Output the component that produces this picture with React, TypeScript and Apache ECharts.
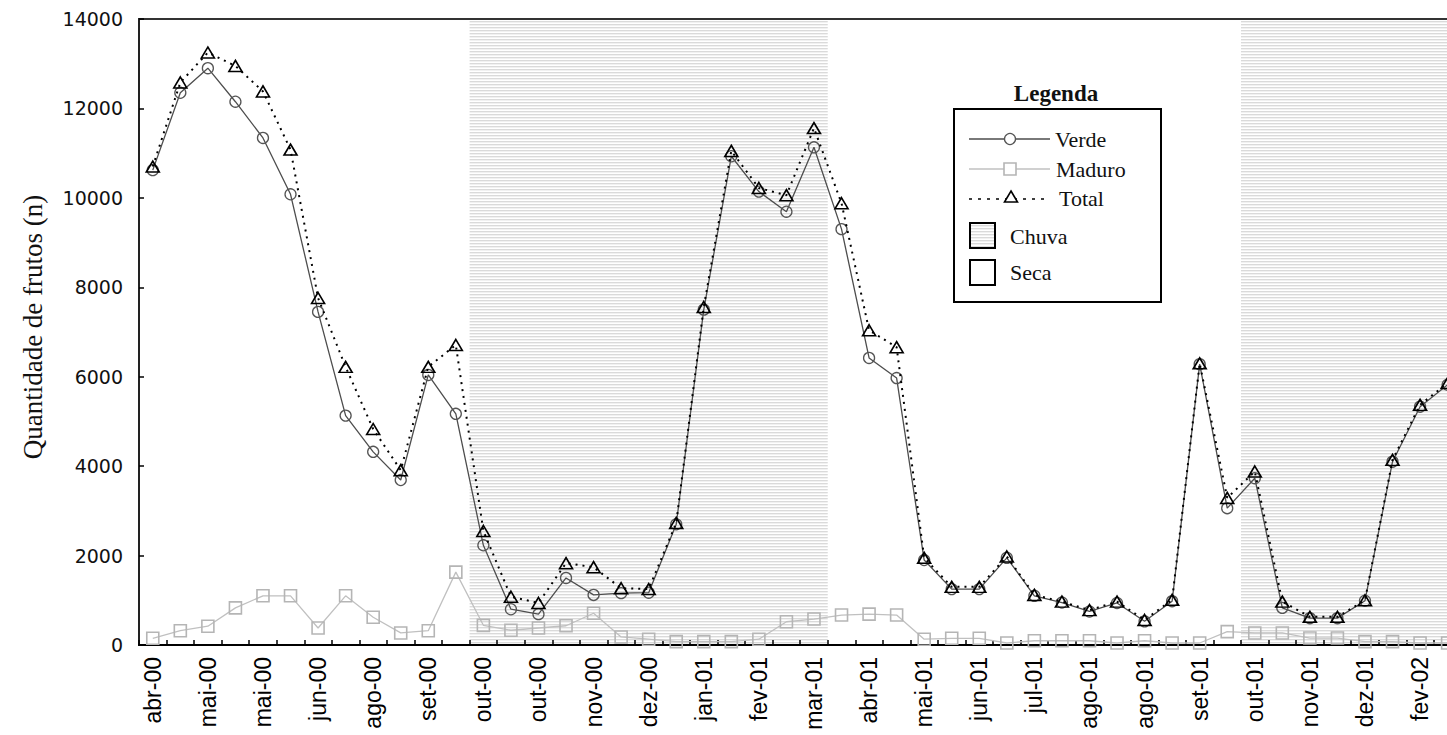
import React, { useEffect, useRef } from 'react';
import * as echarts from 'echarts';

// Tick labels (one every second sample)
const tickLabels = ['abr-00', 'mai-00', 'mai-00', 'jun-00', 'ago-00', 'set-00', 'out-00', 'out-00', 'nov-00', 'dez-00', 'jan-01', 'fev-01', 'mar-01', 'abr-01', 'mai-01', 'jun-01', 'jul-01', 'ago-01', 'ago-01', 'set-01', 'out-01', 'nov-01', 'dez-01', 'fev-02'];

const verde = [10620, 12350, 12900, 12150, 11340, 10080, 7450, 5130, 4320, 3690, 6040, 5170, 2230, 800, 690, 1500, 1120, 1160, 1170, 2700, 7500, 10930, 10140, 9690, 11130, 9300, 6420, 5970, 1900, 1250, 1250, 1950, 1100, 950, 750, 940, 530, 980, 6280, 3060, 3730, 830, 600, 600, 990, 4100, 5330, 5820];
const maduro = [150, 320, 420, 830, 1100, 1100, 380, 1100, 620, 270, 320, 1630, 440, 330, 380, 430, 710, 180, 130, 75, 75, 75, 130, 520, 580, 670, 690, 670, 130, 150, 150, 45, 95, 95, 95, 45, 95, 45, 45, 300, 270, 270, 155, 155, 75, 75, 45, 45];
const total = [10700, 12580, 13250, 12950, 12380, 11080, 7760, 6220, 4830, 3910, 6220, 6710, 2550, 1080, 940, 1830, 1740, 1270, 1250, 2730, 7560, 11050, 10220, 10060, 11560, 9880, 7040, 6660, 1950, 1300, 1300, 1980, 1120, 970, 780, 970, 560, 1010, 6300, 3290, 3880, 970, 630, 630, 1000, 4140, 5370, 5860];

// Rainy season ranges, as [first sample index, last sample index]
const rainBands = [[12, 24], [40, 47]];

const categories = verde.map((_, i) => (i % 2 === 0 ? tickLabels[i / 2] || '' : ''));

const SERIF = '"Liberation Serif", "Times New Roman", serif';

export default function App() {
  const ref = useRef<HTMLDivElement>(null);

  useEffect(() => {
    const chart = echarts.init(ref.current as HTMLDivElement, null, { renderer: 'svg' });

    const cv = document.createElement('canvas');
    cv.width = 4;
    cv.height = 3;
    const ctx = cv.getContext('2d') as CanvasRenderingContext2D;
    ctx.fillStyle = '#ffffff';
    ctx.fillRect(0, 0, 4, 3);
    ctx.fillStyle = '#dadada';
    ctx.fillRect(0, 0, 4, 1);
    ctx.fillStyle = '#f1f1f1';
    ctx.fillRect(0, 1, 4, 1);
    const stripes: any = { image: cv, repeat: 'repeat' };

    const legendText = (text: string, x: number, y: number) => ({
      type: 'text',
      x,
      y,
      z: 101,
      style: {
        text,
        fill: '#111',
        font: `22px ${SERIF}`,
        align: 'left',
        verticalAlign: 'middle',
        textAlign: 'left',
        textVerticalAlign: 'middle',
      },
    });

    const option: any = {
      animation: false,
      backgroundColor: '#ffffff',
      grid: {
        left: 139,
        top: 19,
        width: 48 * 27.55,
        height: 626,
        show: true,
        borderColor: '#333',
        borderWidth: 2,
        backgroundColor: 'transparent',
      },
      xAxis: {
        type: 'category',
        data: categories,
        boundaryGap: true,
        z: 5,
        axisLine: { show: true, lineStyle: { color: '#000', width: 2 } },
        axisTick: { show: true, inside: true, length: 5, interval: 0, lineStyle: { color: '#000', width: 1.5 } },
        axisLabel: {
          interval: 0,
          rotate: 90,
          margin: 12,
          fontFamily: '"Liberation Sans", Arial, sans-serif',
          fontSize: 23,
          color: '#000',
        },
        splitLine: { show: false },
      },
      yAxis: {
        type: 'value',
        min: 0,
        max: 14000,
        interval: 2000,
        z: 5,
        axisLine: { show: true, lineStyle: { color: '#222', width: 2 } },
        axisTick: { show: true, inside: true, length: 5, lineStyle: { color: '#000', width: 1.5 } },
        axisLabel: {
          margin: 16,
          fontFamily: '"DejaVu Sans", sans-serif',
          fontSize: 19,
          color: '#111',
          formatter: (v: number) => String(v),
        },
        splitLine: { show: false },
      },
      series: [
        {
          type: 'custom',
          name: 'Chuva',
          z: 1,
          silent: true,
          clip: false,
          data: rainBands,
          renderItem: (params: any, api: any) => {
            const s = api.value(0);
            const e = api.value(1);
            const a = api.coord([s, 14000]);
            const b = api.coord([e, 0]);
            const bw = api.size([1, 0])[0];
            return {
              type: 'rect',
              shape: { x: a[0] - bw / 2, y: a[1] + 1, width: b[0] - a[0] + bw, height: b[1] - a[1] - 2 },
              style: { fill: stripes },
            };
          },
        },
        {
          type: 'line',
          name: 'Maduro',
          data: maduro,
          z: 6,
          clip: false,
          symbol: 'rect',
          symbolSize: 12,
          lineStyle: { color: '#c0c0c0', width: 1.3 },
          itemStyle: { color: 'rgba(255,255,255,0)', borderColor: '#b5b5b5', borderWidth: 1.6 },
        },
        {
          type: 'line',
          name: 'Verde',
          data: verde,
          z: 7,
          clip: false,
          symbol: 'circle',
          symbolSize: 11,
          lineStyle: { color: '#4d4d4d', width: 1.3 },
          itemStyle: { color: 'rgba(255,255,255,0)', borderColor: '#555', borderWidth: 1.3 },
        },
        {
          type: 'line',
          name: 'Total',
          data: total,
          z: 8,
          clip: false,
          symbol: 'triangle',
          symbolSize: [13, 11],
          lineStyle: { color: '#000', width: 2, type: [2, 5] },
          itemStyle: { color: 'rgba(255,255,255,0)', borderColor: '#000', borderWidth: 1.6 },
        },
      ],
      graphic: [
        {
          type: 'text',
          x: 33,
          y: 327,
          rotation: Math.PI / 2,
          style: {
            text: 'Quantidade de frutos (n)',
            fill: '#111',
            font: `27px ${SERIF}`,
            align: 'center',
            verticalAlign: 'middle',
            textAlign: 'center',
            textVerticalAlign: 'middle',
          },
        },
        {
          type: 'text',
          x: 1056,
          y: 93,
          z: 101,
          style: {
            text: 'Legenda',
            fill: '#111',
            font: `bold 23px ${SERIF}`,
            align: 'center',
            verticalAlign: 'middle',
            textAlign: 'center',
            textVerticalAlign: 'middle',
          },
        },
        {
          type: 'rect',
          z: 100,
          shape: { x: 954, y: 109, width: 207, height: 193 },
          style: { fill: '#fff', stroke: '#000', lineWidth: 2 },
        },
        { type: 'line', z: 101, shape: { x1: 969, y1: 139, x2: 1050, y2: 139 }, style: { stroke: '#4d4d4d', lineWidth: 1.3 } },
        { type: 'circle', z: 102, shape: { cx: 1010, cy: 139, r: 5.5 }, style: { fill: '#fff', stroke: '#555', lineWidth: 1.3 } },
        legendText('Verde', 1055, 139),
        { type: 'line', z: 101, shape: { x1: 969, y1: 169, x2: 1050, y2: 169 }, style: { stroke: '#c0c0c0', lineWidth: 1.3 } },
        { type: 'rect', z: 102, shape: { x: 1004, y: 163, width: 12, height: 12 }, style: { fill: '#fff', stroke: '#b5b5b5', lineWidth: 1.6 } },
        legendText('Maduro', 1056, 169),
        { type: 'line', z: 101, shape: { x1: 969, y1: 199, x2: 1050, y2: 199 }, style: { stroke: '#000', lineWidth: 1.6, lineDash: [3, 6] } },
        {
          type: 'polygon',
          z: 102,
          shape: { points: [[1011, 191], [1017.5, 202], [1004.5, 202]] },
          style: { fill: '#fff', stroke: '#000', lineWidth: 1.6 },
        },
        legendText('Total', 1059, 198),
        { type: 'rect', z: 101, shape: { x: 970, y: 223, width: 25, height: 25 }, style: { fill: stripes, stroke: '#000', lineWidth: 2 } },
        legendText('Chuva', 1010, 236),
        { type: 'rect', z: 101, shape: { x: 970, y: 260, width: 25, height: 25 }, style: { fill: '#fff', stroke: '#000', lineWidth: 2 } },
        legendText('Seca', 1010, 272),
      ],
    };

    chart.setOption(option);
    return () => {
      chart.dispose();
    };
  }, []);

  return (
    <div style={{ position: 'fixed', left: 0, top: 0, width: 1447, height: 735, overflow: 'hidden', background: '#fff' }}>
      <div ref={ref} style={{ position: 'absolute', left: 0, top: 0, width: 1475, height: 735 }} />
    </div>
  );
}
